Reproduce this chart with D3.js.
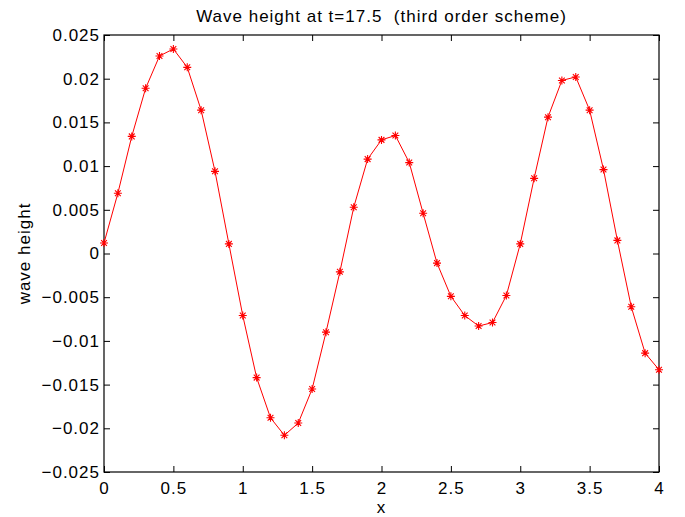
<!DOCTYPE html>
<html><head><meta charset="utf-8">
<script src="https://d3js.org/d3.v7.min.js"></script>
<style>body{margin:0;background:#fff}svg{display:block}text{font-family:"Liberation Sans",Arial,sans-serif;fill:#000;letter-spacing:1px}</style>
</head><body>
<svg id="c" width="685" height="517"></svg>
<script>
const xValues = [0,0.1,0.2,0.3,0.4,0.5,0.6,0.7,0.8,0.9,1.0,1.1,1.2,1.3,1.4,1.5,1.6,1.7,1.8,1.9,2.0,2.1,2.2,2.3,2.4,2.5,2.6,2.7,2.8,2.9,3.0,3.1,3.2,3.3,3.4,3.5,3.6,3.7,3.8,3.9,4.0];
const waveHeight = [0.0012,0.0069,0.0134,0.0189,0.0226,0.0234,0.0213,0.0164,0.0094,0.0011,-0.0071,-0.0142,-0.0188,-0.0208,-0.0194,-0.0155,-0.0090,-0.0021,0.0053,0.0108,0.0130,0.0135,0.0104,0.0046,-0.0011,-0.0049,-0.0071,-0.0083,-0.0079,-0.0048,0.0011,0.0086,0.0156,0.0198,0.0202,0.0164,0.0096,0.0015,-0.0061,-0.0114,-0.0133];
const xTicks = [0,0.5,1,1.5,2,2.5,3,3.5,4];
const yTicks = [-0.025,-0.02,-0.015,-0.01,-0.005,0,0.005,0.01,0.015,0.02,0.025];
const titleText = "Wave height at t=17.5  (third order scheme)";
const xLabel = "x", yLabel = "wave height";

const L=104,R=659,T=35,B=472;
const svg=d3.select("#c");
const x=d3.scaleLinear().domain([0,4]).range([L,R]);
const y=d3.scaleLinear().domain([-0.025,0.025]).range([B,T]);
const fmt=v=>{ if(Math.abs(v)<1e-12) return "0"; const s=String(+v.toFixed(4)); return s.replace("-","\u2212"); };
const fs=17;

const tl=6;
svg.append("g").attr("transform",`translate(0,${B})`).call(d3.axisBottom(x).tickValues(xTicks).tickSizeInner(-tl).tickSizeOuter(0).tickPadding(10).tickFormat(fmt));
svg.append("g").attr("transform",`translate(0,${T})`).call(d3.axisTop(x).tickValues(xTicks).tickSizeInner(-tl).tickSizeOuter(0).tickFormat(""));
svg.append("g").attr("transform",`translate(${L},0)`).call(d3.axisLeft(y).tickValues(yTicks).tickSizeInner(-tl).tickSizeOuter(0).tickPadding(4).tickFormat(fmt));
svg.append("g").attr("transform",`translate(${R},0)`).call(d3.axisRight(y).tickValues(yTicks).tickSizeInner(-tl).tickSizeOuter(0).tickFormat(""));
svg.selectAll(".domain").remove();
svg.selectAll(".tick line").attr("stroke","#000").attr("stroke-width",1);
svg.selectAll(".tick text").attr("font-size",fs).attr("font-family","Liberation Sans, Arial, sans-serif").attr("fill","#000");
svg.append("rect").attr("x",L).attr("y",T).attr("width",R-L).attr("height",B-T).attr("fill","none").attr("stroke","#000").attr("stroke-width",1.2);

const pts=xValues.map((v,i)=>[v,waveHeight[i]]);
svg.append("path").datum(pts).attr("fill","none").attr("stroke","#ff0000").attr("stroke-width",1)
  .attr("d",d3.line().x(d=>x(d[0])).y(d=>y(d[1])));
const m=4;
const g=svg.append("g").attr("stroke","#ff0000").attr("stroke-width",1.1);
pts.forEach(d=>{
  const cx=x(d[0]),cy=y(d[1]);
  g.append("path").attr("d",`M${cx-m},${cy}H${cx+m}M${cx},${cy-m}V${cy+m}M${cx-m*0.72},${cy-m*0.72}L${cx+m*0.72},${cy+m*0.72}M${cx-m*0.72},${cy+m*0.72}L${cx+m*0.72},${cy-m*0.72}`);
});

svg.append("text").attr("x",(L+R)/2).attr("y",22).attr("text-anchor","middle").attr("font-size",fs).attr("xml:space","preserve").style("white-space","pre").text(titleText);
svg.append("text").attr("x",(L+R)/2).attr("y",513).attr("text-anchor","middle").attr("font-size",fs).text(xLabel);
svg.append("text").attr("transform",`translate(30,${(T+B)/2}) rotate(-90)`).attr("text-anchor","middle").attr("font-size",fs).text(yLabel);
</script>
</body></html>
